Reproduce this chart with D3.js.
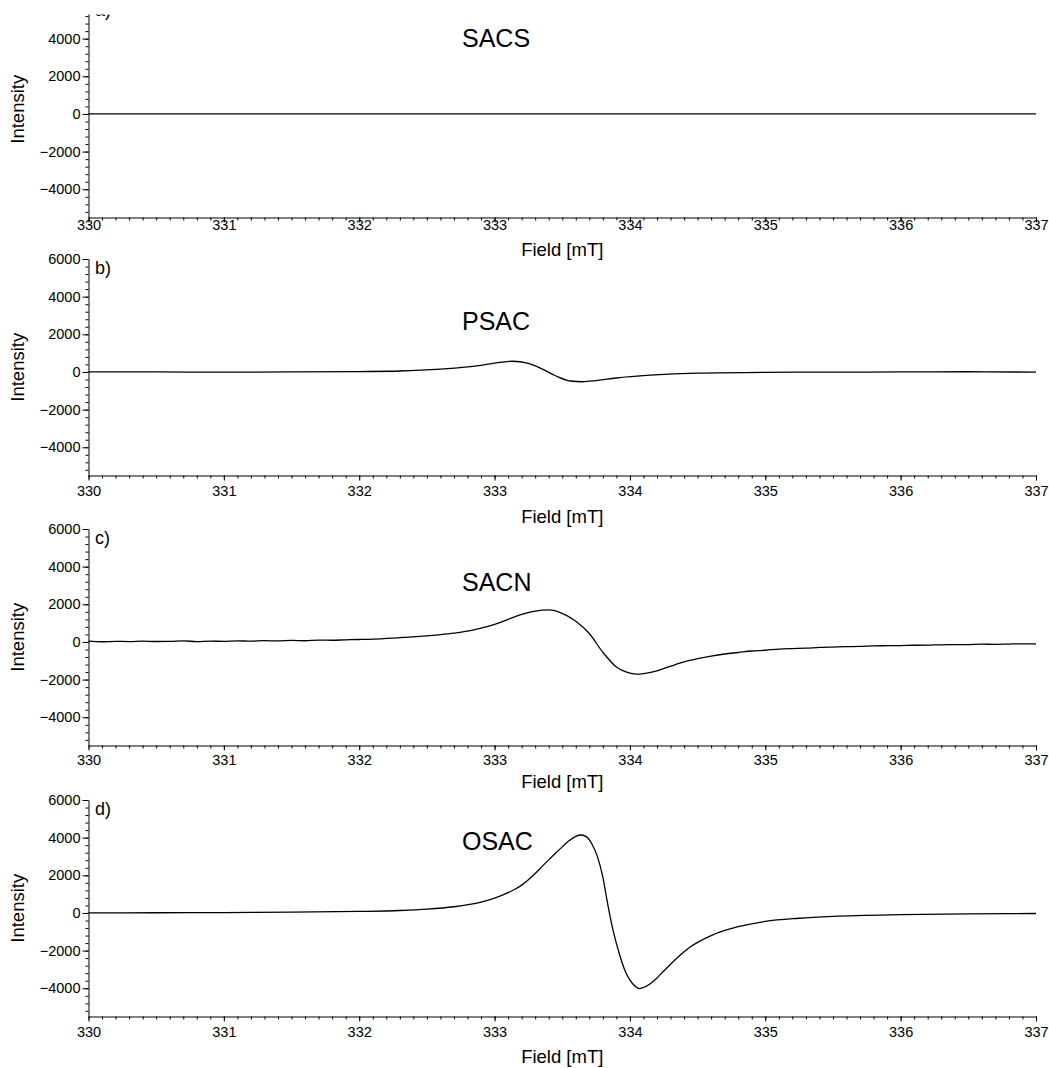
<!DOCTYPE html>
<html>
<head>
<meta charset="utf-8">
<script src="https://cdn.jsdelivr.net/npm/d3@7"></script>
<style>
	body { margin: 0; background: #fff; }
	svg { display: block; font-family: 'Liberation Sans', Arial, sans-serif; }
</style>
</head>
<body>
<div id="epr"></div>
<script>
// Field axis (mT) and tick labels
var fieldTicks = [330, 331, 332, 333, 334, 335, 336, 337];
var intensityTicks = [-4000, -2000, 0, 2000, 4000, 6000];

var sampleNames = ['SACS', 'PSAC', 'SACN', 'OSAC'];
var panelLetters = ['a)', 'b)', 'c)', 'd)'];

// a) SACS - no signal
var sacsField = [330, 331, 332, 333, 334, 335, 336, 337];
var sacsIntensity = [0, 0, 0, 0, 0, 0, 0, 0];

// b) PSAC
var psacField = [330, 330.5, 331, 331.5, 332, 332.3, 332.6, 332.8, 332.9, 333.0, 333.13, 333.25,
	333.35, 333.45, 333.56, 333.65, 333.75, 333.9, 334.15, 334.5, 335, 335.5, 336, 336.5, 337];
var psacIntensity = [0, 0, -10, 0, 20, 50, 150, 270, 350, 470, 570, 450,
	160, -200, -480, -520, -460, -320, -170, -60, -20, -10, 0, 10, -10];

// c) SACN (noisy)
var sacnField = [330.0, 330.1, 330.2, 330.3, 330.4, 330.5, 330.6, 330.7, 330.8, 330.9,
	331.0, 331.1, 331.2, 331.3, 331.4, 331.5, 331.6, 331.7, 331.8, 331.9,
	332.0, 332.1, 332.2, 332.3, 332.4, 332.5, 332.6, 332.7, 332.8, 332.9,
	333.0, 333.1, 333.2, 333.3, 333.4, 333.5, 333.6, 333.7, 333.8, 333.9,
	334.0, 334.05, 334.1, 334.2, 334.3, 334.4, 334.5, 334.6, 334.7, 334.8, 334.9,
	335.0, 335.1, 335.2, 335.3, 335.4, 335.5, 335.6, 335.7, 335.8, 335.9,
	336.0, 336.1, 336.2, 336.3, 336.4, 336.5, 336.6, 336.7, 336.8, 336.9, 337.0];
var sacnIntensity = [40, 10, 35, 20, 45, 25, 30, 55, 20, 40,
	35, 60, 40, 70, 55, 80, 65, 95, 90, 115,
	130, 150, 185, 225, 270, 320, 390, 470, 570, 730,
	940, 1200, 1460, 1640, 1700, 1520, 1100, 450, -550, -1330,
	-1650, -1710, -1680, -1530, -1290, -1060, -890, -750, -640, -560, -480,
	-440, -380, -350, -330, -290, -270, -250, -240, -210, -200,
	-190, -175, -170, -150, -145, -140, -120, -125, -110, -100, -105];

// d) OSAC
var osacField = [330.0, 330.5, 331.0, 331.5, 332.0, 332.3, 332.5, 332.7, 332.9, 333.0,
	333.1, 333.15, 333.2, 333.25, 333.3, 333.35, 333.4, 333.45, 333.5, 333.55, 333.6,
	333.64, 333.68, 333.72, 333.76, 333.8, 333.83, 333.87, 333.92, 333.96, 334.0,
	334.04, 334.07, 334.1, 334.15, 334.2, 334.25, 334.3, 334.35, 334.4, 334.45,
	334.5, 334.6, 334.7, 334.8, 334.9, 335.0, 335.25, 335.5, 336.0, 336.5, 337.0];
var osacIntensity = [0, 10, 20, 40, 80, 130, 200, 330, 580, 790,
	1080, 1260, 1480, 1760, 2100, 2460, 2820, 3170, 3510, 3830, 4070,
	4140, 4040, 3650, 2990, 1900, 700, -750, -2130, -3000, -3570,
	-3900, -4020, -3960, -3760, -3450, -3080, -2720, -2380, -2060, -1780,
	-1560, -1200, -930, -730, -580, -450, -280, -180, -90, -50, -30];

var fields = [sacsField, psacField, sacnField, osacField];
var intensities = [sacsIntensity, psacIntensity, sacnIntensity, osacIntensity];

var width = 1049;
var height = 1068;

// panel placement (pixels)
var panels = [
	{top: 1, tickY: 12, titleY: 38, nameY: 47},
	{top: 259, tickY: 20, titleY: 47, nameY: 330},
	{top: 529, tickY: 19, titleY: 42, nameY: 591},
	{top: 800, tickY: 20, titleY: 46, nameY: 850}
];
var panelHeight = 216.5;

var svg = d3.select('#epr')
			.append('svg')
			.attr('width', width)
			.attr('height', height);

var x_scale = d3.scaleLinear()
				.domain([330, 337])
				.range([88.5, 1036]);

var line = d3.line()
			 .x(function(d){ return x_scale(d[0]); })
			 .y(function(d){ return d[1]; })
			 .curve(d3.curveMonotoneX);

panels.forEach(function(p, i){
	var bottom = p.top + panelHeight;
	var y_scale = d3.scaleLinear()
					.domain([-5500, 6000])
					.range([bottom, p.top]);

	var g = svg.append('g').attr('class', 'panel');

	// x minor ticks
	g.append('g')
	 .attr('transform', 'translate(0,' + bottom + ')')
	 .call(d3.axisBottom(x_scale)
	 		.tickValues(d3.range(3300, 3371).map(function(v){ return v / 10; }))
	 		.tickSize(3)
	 		.tickFormat(''))
	 .call(function(a){ a.select('.domain').remove(); });

	// x major axis
	var xa = g.append('g')
	 .attr('transform', 'translate(0,' + bottom + ')')
	 .call(d3.axisBottom(x_scale)
	 		.tickValues(fieldTicks)
	 		.tickSize(5)
	 		.tickSizeOuter(0)
	 		.tickFormat(d3.format('d')));
	xa.selectAll('.tick text')
	  .attr('y', p.tickY)
	  .attr('dy', null)
	  .attr('font-size', '14.5px')
	  .attr('font-family', null);

	// y minor ticks
	g.append('g')
	 .attr('transform', 'translate(' + 88.5 + ',0)')
	 .call(d3.axisLeft(y_scale)
	 		.tickValues(d3.range(-13, 16).map(function(v){ return v * 400; }))
	 		.tickSize(3)
	 		.tickFormat(''))
	 .call(function(a){ a.select('.domain').remove(); });

	// y major axis (top label of first panel is cropped away in the original)
	var yTicksShown = i === 0 ? intensityTicks.slice(0, -1) : intensityTicks;
	var ya = g.append('g')
	 .attr('transform', 'translate(' + 88.5 + ',0)')
	 .call(d3.axisLeft(y_scale)
	 		.tickValues(yTicksShown)
	 		.tickSize(6)
	 		.tickSizeOuter(0)
	 		.tickPadding(2)
	 		.tickFormat(d3.format('d')));
	ya.selectAll('.tick text')
	  .attr('font-size', '14.5px')
	  .attr('font-family', null);

	// axis titles
	g.append('text')
	 .attr('x', x_scale(333.5))
	 .attr('y', bottom + p.titleY)
	 .attr('text-anchor', 'middle')
	 .attr('font-size', '18.5px')
	 .text('Field [mT]');

	g.append('text')
	 .attr('transform', 'translate(24,' + ((p.top + bottom) / 2) + ') rotate(-90)')
	 .attr('text-anchor', 'middle')
	 .attr('font-size', '18.5px')
	 .text('Intensity');

	// panel letter and sample name
	g.append('text')
	 .attr('x', 95)
	 .attr('y', p.top + 15)
	 .attr('font-size', '18px')
	 .text(panelLetters[i]);

	g.append('text')
	 .attr('x', 462)
	 .attr('y', p.nameY)
	 .attr('font-size', '25px')
	 .text(sampleNames[i]);

	// spectrum
	var pts = fields[i].map(function(f, k){
		return [f, y_scale(intensities[i][k])];
	});
	g.append('path')
	 .attr('d', line(pts))
	 .attr('fill', 'none')
	 .attr('stroke', '#000')
	 .attr('stroke-width', 1.3);
});

// the top of the figure is cropped in the original
svg.append('rect')
   .attr('x', 0)
   .attr('y', 0)
   .attr('width', width)
   .attr('height', 14.5)
   .attr('fill', '#fff');
</script>
</body>
</html>
